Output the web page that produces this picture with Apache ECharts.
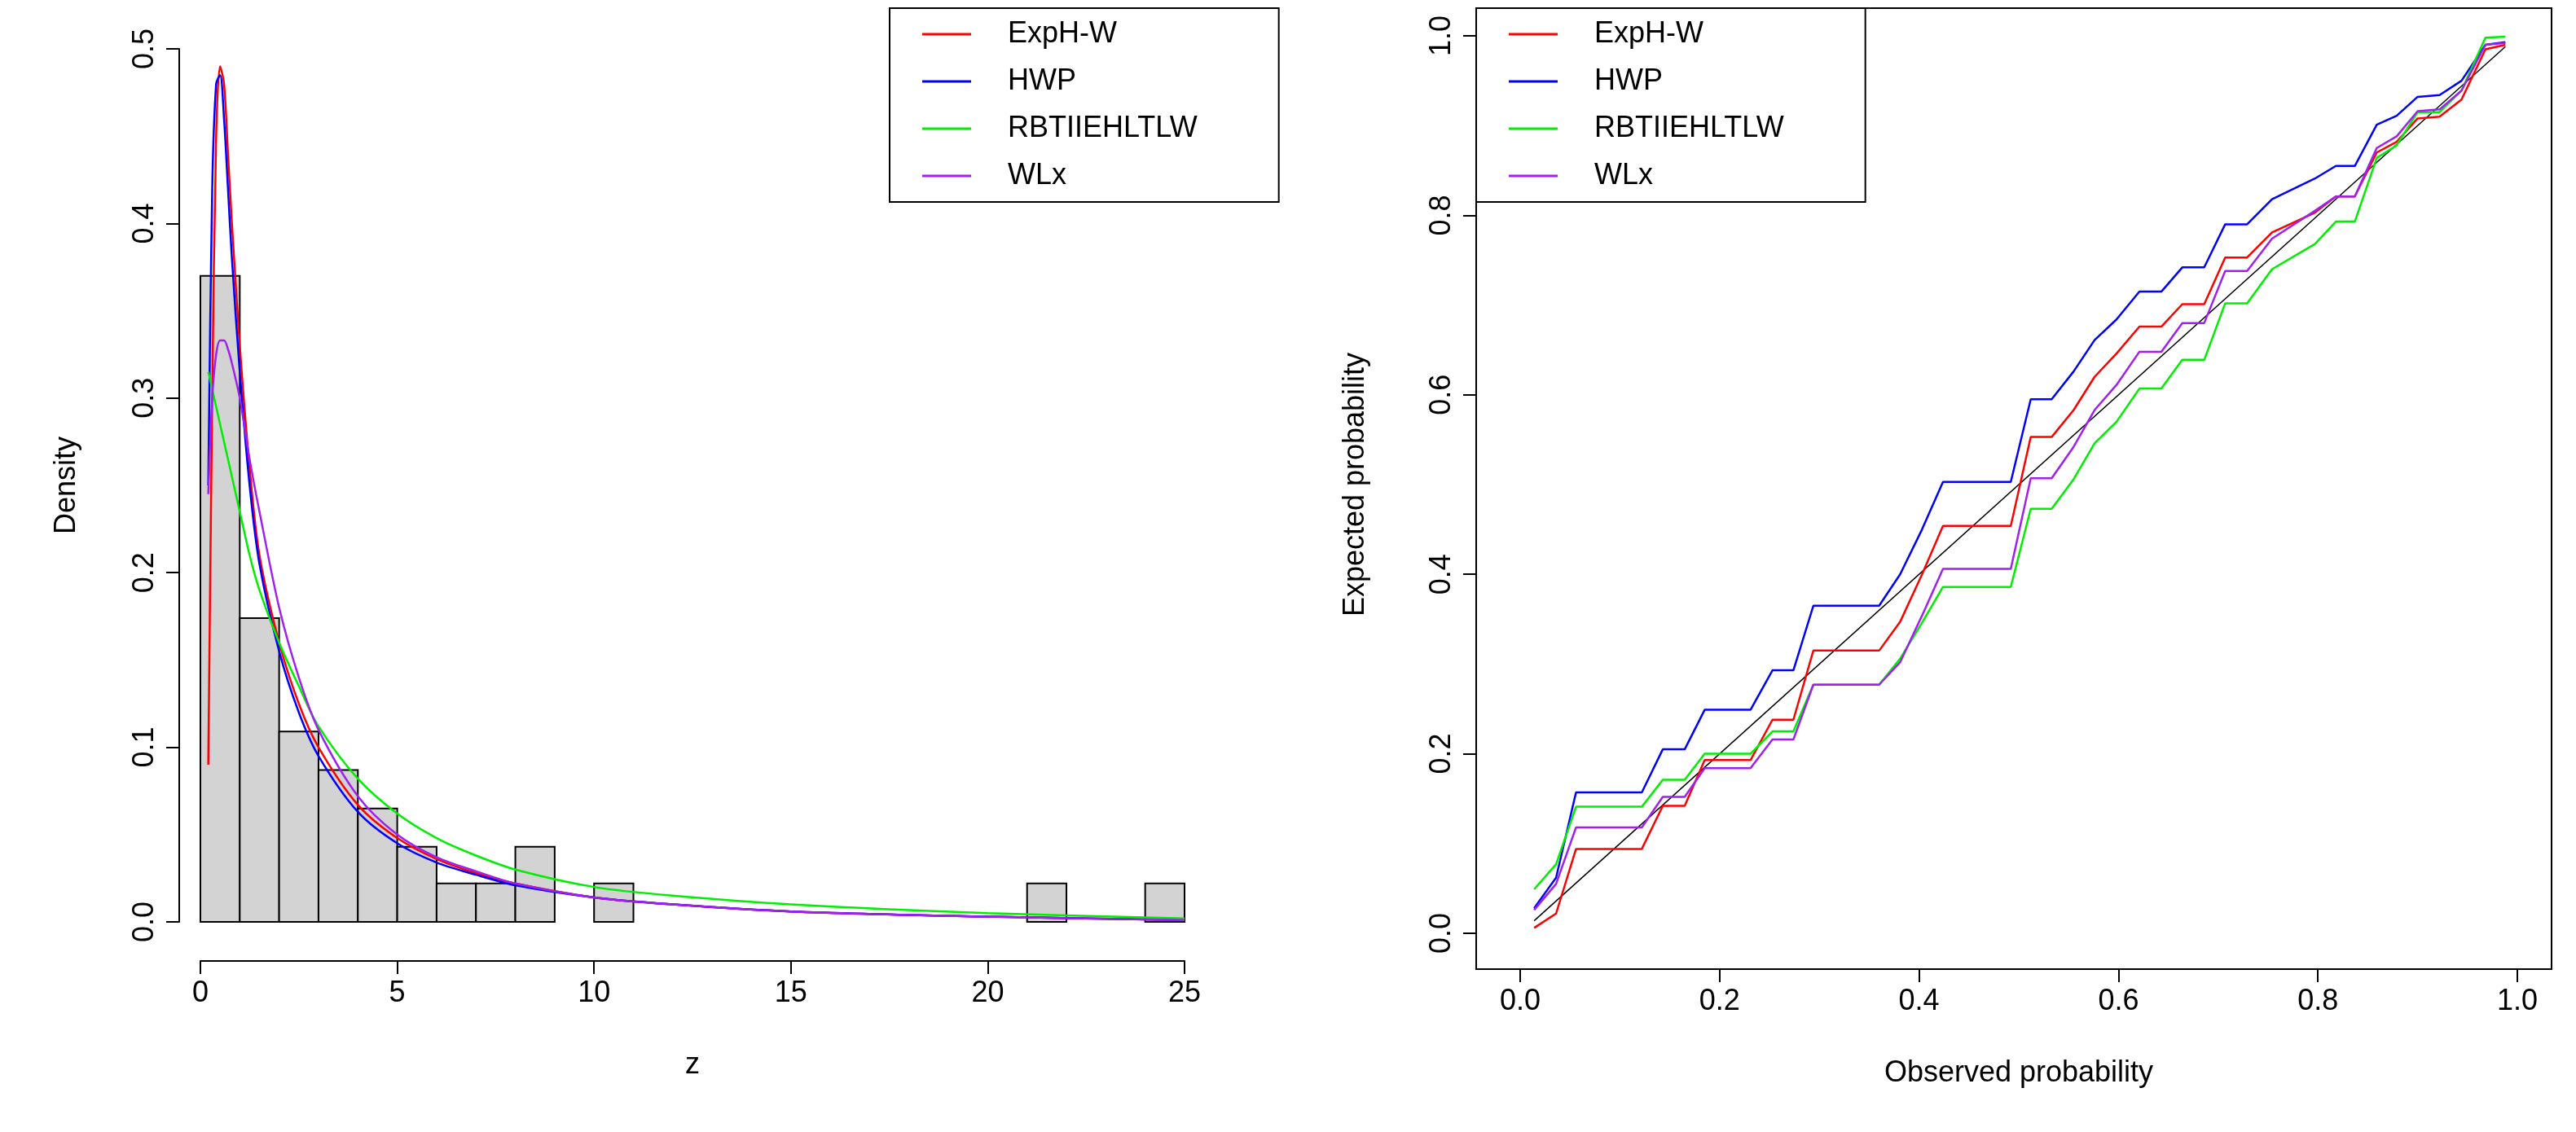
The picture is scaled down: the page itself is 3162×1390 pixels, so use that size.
<!DOCTYPE html>
<html>
<head>
<meta charset="utf-8">
<script src="https://cdn.jsdelivr.net/npm/echarts@6/dist/echarts.min.js"></script>
<style>html,body{margin:0;background:#fff}#main{width:3162px;height:1390px}</style>
</head>
<body>
<div id="main"></div>
<script>
// histogram (bin width 1, density)
var binStarts = [0, 1, 2, 3, 4, 5, 6, 7, 8, 10, 21, 24];
var binDensity = [0.370, 0.174, 0.109, 0.087, 0.065, 0.043, 0.022, 0.022, 0.043, 0.022, 0.022, 0.022];

// fitted density curves
var zGrid = [0.2, 0.3, 0.4, 0.5, 0.6, 0.7, 0.8, 1, 1.25, 1.5, 2, 2.5, 3, 4, 5, 6, 7, 8, 10, 12, 15, 20, 25];
var densExpHW = [0.09, 0.3, 0.45, 0.49, 0.48, 0.44, 0.4, 0.33, 0.26, 0.21, 0.16, 0.125, 0.1, 0.067, 0.048, 0.036, 0.028, 0.022, 0.014, 0.01, 0.006, 0.003, 0.001];
var densHWP = [0.25, 0.42, 0.48, 0.485, 0.46, 0.42, 0.38, 0.315, 0.25, 0.205, 0.155, 0.12, 0.095, 0.063, 0.045, 0.034, 0.027, 0.021, 0.014, 0.01, 0.006, 0.003, 0.001];
var densRBT = [0.315, 0.305, 0.295, 0.285, 0.275, 0.265, 0.255, 0.235, 0.21, 0.19, 0.16, 0.135, 0.112, 0.082, 0.062, 0.048, 0.038, 0.03, 0.02, 0.015, 0.01, 0.005, 0.002];
var densWLx = [0.245, 0.3, 0.325, 0.333, 0.333, 0.328, 0.32, 0.3, 0.265, 0.235, 0.18, 0.14, 0.11, 0.072, 0.05, 0.037, 0.029, 0.022, 0.014, 0.01, 0.006, 0.003, 0.001];

// P-P plot
var obsProb = [0.014, 0.036, 0.056, 0.122, 0.143, 0.165, 0.185, 0.231, 0.253, 0.274, 0.294, 0.36, 0.381, 0.403, 0.424, 0.492, 0.512, 0.533, 0.555, 0.576, 0.598, 0.621, 0.643, 0.664, 0.686, 0.707, 0.729, 0.754, 0.797, 0.818, 0.837, 0.859, 0.879, 0.9, 0.922, 0.944, 0.968, 0.988];
var ppHWP = [0.028, 0.062, 0.157, 0.157, 0.205, 0.205, 0.249, 0.249, 0.293, 0.293, 0.365, 0.365, 0.4, 0.45, 0.503, 0.503, 0.595, 0.595, 0.626, 0.661, 0.684, 0.715, 0.715, 0.742, 0.742, 0.79, 0.79, 0.818, 0.841, 0.855, 0.855, 0.901, 0.911, 0.932, 0.934, 0.95, 0.99, 0.993];
var ppExpHW = [0.006, 0.022, 0.094, 0.094, 0.142, 0.142, 0.193, 0.193, 0.238, 0.238, 0.315, 0.315, 0.347, 0.4, 0.454, 0.454, 0.553, 0.553, 0.583, 0.62, 0.646, 0.676, 0.676, 0.701, 0.701, 0.753, 0.753, 0.781, 0.803, 0.821, 0.821, 0.87, 0.882, 0.908, 0.91, 0.929, 0.985, 0.99];
var ppRBT = [0.049, 0.077, 0.141, 0.141, 0.171, 0.171, 0.2, 0.2, 0.225, 0.225, 0.277, 0.277, 0.306, 0.346, 0.386, 0.386, 0.473, 0.473, 0.506, 0.546, 0.57, 0.607, 0.607, 0.639, 0.639, 0.702, 0.702, 0.74, 0.768, 0.793, 0.793, 0.864, 0.878, 0.915, 0.915, 0.939, 0.998, 0.999];
var ppWLx = [0.026, 0.055, 0.118, 0.118, 0.152, 0.152, 0.184, 0.184, 0.216, 0.216, 0.277, 0.277, 0.302, 0.354, 0.406, 0.406, 0.507, 0.507, 0.542, 0.583, 0.611, 0.648, 0.648, 0.68, 0.68, 0.738, 0.738, 0.774, 0.805, 0.821, 0.821, 0.875, 0.888, 0.916, 0.918, 0.939, 0.99, 0.992];

var names = ['ExpH-W', 'HWP', 'RBTIIEHLTLW', 'WLx'];
var colors = ['#ff0000', '#0000ff', '#00ee00', '#a020f0'];

function pairs(xs, ys) {
    return xs.map(function (x, i) { return [x, ys[i]]; });
}

var font = 'Liberation Sans, Arial, sans-serif';
var lbl = { fontSize: 36, color: '#000', fontFamily: font };
var axisCommon = {
    axisLine: { show: true, onZero: false, lineStyle: { color: '#000', width: 2 } },
    axisTick: { show: true, length: 16, lineStyle: { color: '#000', width: 2 } },
    splitLine: { show: false },
    nameTextStyle: lbl
};

function mk(name, xs, ys, color, axIdx) {
    return {
        name: name, type: 'line', xAxisIndex: axIdx, yAxisIndex: axIdx,
        data: pairs(xs, ys), symbol: 'none', smooth: axIdx === 0 ? 0.3 : false,
        lineStyle: { color: color, width: 2.5 }, itemStyle: { color: color }, z: 5
    };
}

var series = [{
    type: 'custom', xAxisIndex: 0, yAxisIndex: 0, silent: true,
    data: binStarts.map(function (s, i) { return [s, binDensity[i]]; }),
    renderItem: function (params, api) {
        var p0 = api.coord([api.value(0), 0]);
        var p1 = api.coord([api.value(0) + 1, api.value(1)]);
        return {
            type: 'rect',
            shape: { x: p0[0], y: p1[1], width: p1[0] - p0[0], height: p0[1] - p1[1] },
            style: { fill: '#d3d3d3', stroke: '#000', lineWidth: 2 }
        };
    }
}];
var dens = [densExpHW, densHWP, densRBT, densWLx];
var pp = [ppExpHW, ppHWP, ppRBT, ppWLx];
names.forEach(function (n, i) { series.push(mk(n, zGrid, dens[i], colors[i], 0)); });
names.forEach(function (n, i) { series.push(mk(n, obsProb, pp[i], colors[i], 1)); });
series.push({
    type: 'line', xAxisIndex: 1, yAxisIndex: 1, symbol: 'none', silent: true,
    data: [[obsProb[0], obsProb[0]], [obsProb[obsProb.length - 1], obsProb[obsProb.length - 1]]],
    lineStyle: { color: '#000', width: 1.5 }
});

var legendCommon = {
    orient: 'vertical', data: names, itemWidth: 60, itemHeight: 3, itemGap: 22,
    icon: 'rect', textStyle: { fontSize: 36, fontFamily: font, color: '#000', padding: [0, 0, 0, 40] },
    borderColor: '#000', borderWidth: 2, borderRadius: 0, padding: [14, 100, 14, 40], backgroundColor: '#fff'
};

var myChart = echarts.init(document.getElementById('main'));
myChart.setOption({
    animation: false,
    grid: [
        { left: 246, width: 1208, top: 60, height: 1072 },
        { left: 1866, width: 1224, top: 44, height: 1102 }
    ],
    xAxis: [
        Object.assign({}, axisCommon, { gridIndex: 0, type: 'value', min: 0, max: 25, interval: 5, offset: 48,
            name: 'z', nameLocation: 'middle', nameGap: 110, axisLabel: Object.assign({ margin: 22 }, lbl) }),
        Object.assign({}, axisCommon, { gridIndex: 1, type: 'value', min: 0, max: 1, interval: 0.2, offset: 44,
            name: 'Observed probability', nameLocation: 'middle', nameGap: 110,
            axisLabel: Object.assign({ margin: 22, formatter: function (v) { return v.toFixed(1); } }, lbl) })
    ],
    yAxis: [
        Object.assign({}, axisCommon, { gridIndex: 0, type: 'value', min: 0, max: 0.5, interval: 0.1, offset: 26,
            name: 'Density', nameLocation: 'middle', nameGap: 120,
            axisLabel: Object.assign({ margin: 24, rotate: 90, formatter: function (v) { return v.toFixed(1); } }, lbl) }),
        Object.assign({}, axisCommon, { gridIndex: 1, type: 'value', min: 0, max: 1, interval: 0.2, offset: 54,
            name: 'Expected probability', nameLocation: 'middle', nameGap: 130,
            axisLabel: Object.assign({ margin: 24, rotate: 90, formatter: function (v) { return v.toFixed(1); } }, lbl) })
    ],
    legend: [
        Object.assign({}, legendCommon, { left: 1092, top: 10 }),
        Object.assign({}, legendCommon, { left: 1812, top: 10 })
    ],
    graphic: [{
        type: 'rect', shape: { x: 1812, y: 10, width: 1320, height: 1180 },
        style: { fill: null, stroke: '#000', lineWidth: 2 }, z: 0
    }],
    series: series
});
</script>
</body>
</html>
